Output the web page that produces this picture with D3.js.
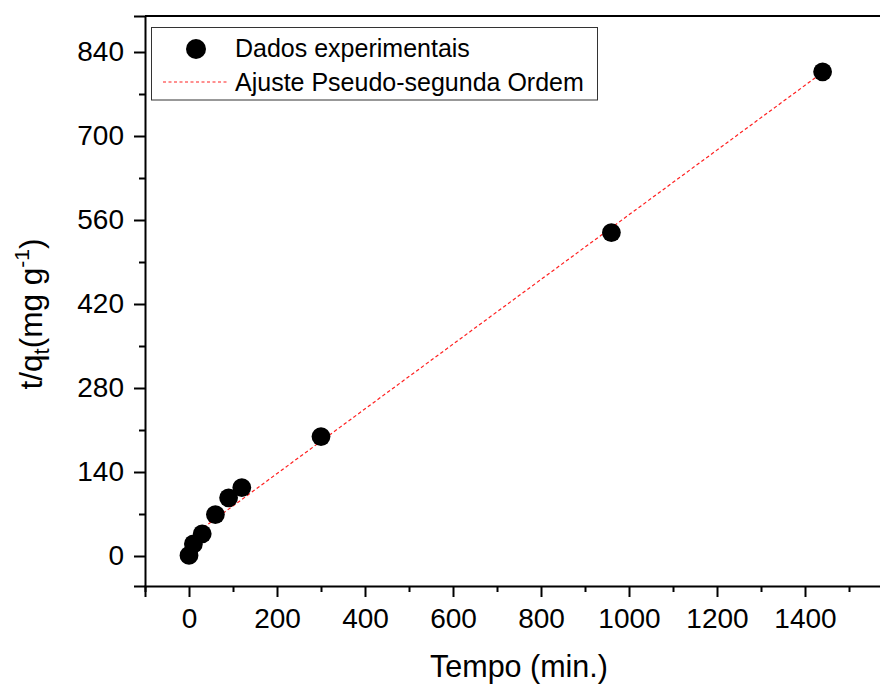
<!DOCTYPE html>
<html>
<head>
<meta charset="utf-8">
<script src="https://cdn.jsdelivr.net/npm/d3@7"></script>
<style>
  html, body { margin: 0; padding: 0; background: #fff; }
  svg { display: block; font-family: "Liberation Sans", Arial, sans-serif; }
</style>
</head>
<body>
<svg id="chart" width="880" height="684"></svg>
<script>
// Kinetic data: time (min) vs t/q_t
const tempo = [0, 10, 30, 60, 90, 120, 300, 960, 1440];
const tq = [1, 20, 37, 69, 97, 114, 199, 539, 807];

// Pseudo-second-order fit line endpoints
const fitTempo = [0, 1440];
const fitTq = [29.5, 806];

const xTicks = [0, 200, 400, 600, 800, 1000, 1200, 1400];
const xMinor = [-100, 100, 300, 500, 700, 900, 1100, 1300, 1500];
const yTicks = [0, 140, 280, 420, 560, 700, 840];
const yMinor = [70, 210, 350, 490, 630, 770];

const legendLabels = ["Dados experimentais", "Ajuste Pseudo-segunda Ordem"];

const svg = d3.select("#chart");

const x = d3.scaleLinear().domain([-100, 1600]).range([145, 893]);
const y = d3.scaleLinear().domain([-50, 900]).range([586, 16]);

// frame: top line
svg.append("line")
  .attr("x1", x(-100)).attr("x2", x(1600))
  .attr("y1", y(900)).attr("y2", y(900))
  .attr("stroke", "#000").attr("stroke-width", 2);

// fit line
const line = d3.line().x(d => x(d[0])).y(d => y(d[1]));
svg.append("path")
  .datum(fitTempo.map((t, i) => [t, fitTq[i]]))
  .attr("d", line)
  .attr("fill", "none")
  .attr("stroke", "#ff2020")
  .attr("stroke-width", 1.2)
  .attr("stroke-dasharray", "3.5,2.5");

// data points
svg.append("g").selectAll("circle")
  .data(tempo.map((t, i) => [t, tq[i]]))
  .join("circle")
  .attr("cx", d => x(d[0]))
  .attr("cy", d => y(d[1]))
  .attr("r", 9.4)
  .attr("fill", "#000");

// x axis
const xAxis = svg.append("g").attr("transform", `translate(0,${y(-50)})`)
  .call(d3.axisBottom(x).tickValues(xTicks).tickSize(11).tickPadding(12).tickFormat(d3.format("d")));
svg.append("g").attr("transform", `translate(0,${y(-50)})`)
  .call(d3.axisBottom(x).tickValues(xMinor).tickSize(6).tickFormat(""))
  .call(g => g.select(".domain").remove());

// y axis
const yAxis = svg.append("g").attr("transform", `translate(${x(-100)},0)`)
  .call(d3.axisLeft(y).tickValues(yTicks).tickSize(11).tickPadding(10).tickFormat(d3.format("d")));
svg.append("g").attr("transform", `translate(${x(-100)},0)`)
  .call(d3.axisLeft(y).tickValues(yMinor).tickSize(6).tickFormat(""))
  .call(g => g.select(".domain").remove());

svg.selectAll(".domain").attr("stroke", "#000").attr("stroke-width", 2);
svg.selectAll(".tick line").attr("stroke", "#000").attr("stroke-width", 2);
svg.selectAll(".tick text")
  .attr("font-family", "'Liberation Sans', Arial, sans-serif")
  .attr("font-size", 28)
  .attr("fill", "#000");
xAxis.selectAll(".tick text").attr("dy", "0.68em");

// axis titles
svg.append("text")
  .attr("x", 519).attr("y", 677)
  .attr("text-anchor", "middle")
  .attr("font-size", 30.5)
  .text("Tempo (min.)");

const yTitle = svg.append("text")
  .attr("transform", "translate(42,314) rotate(-90)")
  .attr("text-anchor", "middle")
  .attr("font-size", 31.5);
yTitle.append("tspan").text("t/q");
yTitle.append("tspan").attr("font-size", 22).attr("dy", 7).text("t");
yTitle.append("tspan").attr("dy", -7).text("(mg g");
yTitle.append("tspan").attr("font-size", 21).attr("dy", -13).text("-1");
yTitle.append("tspan").attr("dy", 13).text(")");

// legend
const legend = svg.append("g");
legend.append("rect")
  .attr("x", 151.5).attr("y", 27.5)
  .attr("width", 446).attr("height", 72.5)
  .attr("fill", "#fff")
  .attr("stroke", "#333").attr("stroke-width", 1);
legend.append("circle")
  .attr("cx", 196).attr("cy", 49).attr("r", 10).attr("fill", "#000");
legend.append("line")
  .attr("x1", 163).attr("x2", 228).attr("y1", 82).attr("y2", 82)
  .attr("stroke", "#ff2020").attr("stroke-width", 1.2)
  .attr("stroke-dasharray", "3,2.5");
legend.selectAll("text.lbl")
  .data(legendLabels)
  .join("text")
  .attr("class", "lbl")
  .attr("x", 235)
  .attr("y", (d, i) => 57 + i * 34)
  .attr("font-size", 25)
  .text(d => d);
</script>
</body>
</html>
